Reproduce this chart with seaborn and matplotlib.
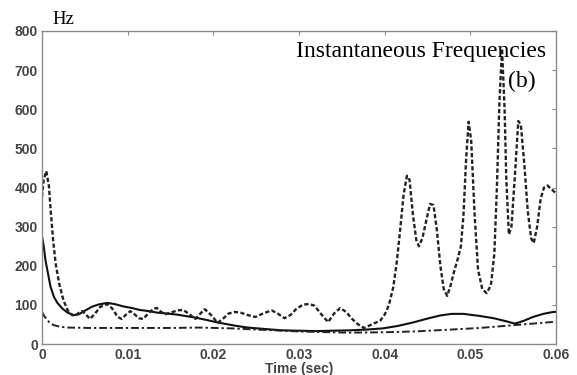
import matplotlib
matplotlib.use("Agg")
import matplotlib.pyplot as plt
import seaborn as sns
import pandas as pd

# ---- data ----
t_dashed = [0.0000, 0.0002, 0.0005, 0.0008, 0.0010, 0.0013, 0.0016, 0.0020, 0.0025, 0.0030,
            0.0035, 0.0039, 0.0043, 0.0047, 0.0051, 0.0056, 0.0062, 0.0068, 0.0077, 0.0083,
            0.0088, 0.0093, 0.0098, 0.0103, 0.0108, 0.0113, 0.0118, 0.0124, 0.0130, 0.0134,
            0.0139, 0.0144, 0.0150, 0.0158, 0.0165, 0.0172, 0.0179, 0.0185, 0.0190, 0.0197,
            0.0205, 0.0212, 0.0218, 0.0225, 0.0232, 0.0240, 0.0249, 0.0258, 0.0268, 0.0275,
            0.0283, 0.0290, 0.0297, 0.0305, 0.0312, 0.0318, 0.0326, 0.0334, 0.0341, 0.0348,
            0.0355, 0.0362, 0.0369, 0.0376, 0.0385, 0.0395, 0.0400, 0.0405, 0.0410, 0.0414,
            0.0418, 0.0422, 0.0426, 0.0429, 0.0433, 0.0437, 0.0440, 0.0444, 0.0449, 0.0453,
            0.0457, 0.0461, 0.0465, 0.0469, 0.0473, 0.0477, 0.0481, 0.0485, 0.0489, 0.0492,
            0.0495, 0.0498, 0.0501, 0.0505, 0.0509, 0.0514, 0.0519, 0.0524, 0.0528, 0.0531,
            0.0534, 0.0537, 0.0540, 0.0542, 0.0545, 0.0548, 0.0552, 0.0556, 0.0559, 0.0563,
            0.0567, 0.0571, 0.0574, 0.0578, 0.0582, 0.0586, 0.0590, 0.0595, 0.0600]
f_dashed = [376, 420, 442, 405, 345, 265, 205, 155, 112, 86,
            74, 72, 80, 84, 76, 64, 78, 95, 102, 88,
            70, 64, 75, 84, 76, 66, 64, 78, 90, 92,
            82, 76, 80, 86, 87, 76, 64, 78, 89, 75,
            54, 66, 78, 82, 80, 74, 69, 78, 86, 78,
            66, 74, 90, 101, 102, 98, 76, 56, 78, 92,
            82, 64, 50, 41, 50, 60, 75, 100, 145, 207,
            290, 380, 430, 420, 330, 265, 250, 270, 320, 358,
            355, 290, 200, 140, 123, 150, 185, 215, 250, 330,
            470, 568, 520, 330, 190, 140, 130, 150, 230, 400,
            620, 755, 600, 420, 280, 300, 430, 570, 560, 460,
            340, 270, 258, 300, 370, 400, 405, 395, 385]

t_solid = [0.0000, 0.0002, 0.0004, 0.0007, 0.0010, 0.0014, 0.0018, 0.0024, 0.0030, 0.0037,
           0.0043, 0.0050, 0.0058, 0.0066, 0.0076, 0.0085, 0.0095, 0.0105, 0.0114, 0.0125,
           0.0135, 0.0146, 0.0158, 0.0169, 0.0180, 0.0193, 0.0205, 0.0215, 0.0225, 0.0240,
           0.0262, 0.0280, 0.0300, 0.0320, 0.0340, 0.0360, 0.0380, 0.0398, 0.0415, 0.0433,
           0.0450, 0.0465, 0.0478, 0.0492, 0.0510, 0.0527, 0.0542, 0.0552, 0.0562, 0.0573,
           0.0585, 0.0597, 0.0600]
f_solid = [275, 250, 215, 180, 146, 120, 105, 90, 80, 74,
           76, 85, 95, 101, 105, 102, 96, 92, 87, 84,
           80, 78, 75, 71, 67, 61, 55, 51, 47, 42,
           38, 35, 34, 33, 34, 35, 37, 40, 46, 55,
           65, 73, 77, 77, 72, 66, 58, 52, 59, 69,
           77, 82, 82]

t_dashdot = [0.0000, 0.0003, 0.0006, 0.0009, 0.0014, 0.0021, 0.0030, 0.0056, 0.0100, 0.0150,
             0.0184, 0.0220, 0.0260, 0.0300, 0.0356, 0.0400, 0.0433, 0.0470, 0.0511, 0.0550,
             0.0600]
f_dashdot = [82, 70, 62, 54, 48, 44, 42, 41, 41, 41,
             42, 40, 36, 32, 29, 30, 32, 36, 41, 48,
             57]

x_ticks = [0, 0.01, 0.02, 0.03, 0.04, 0.05, 0.06]
x_ticklabels = ["0", "0.01", "0.02", "0.03", "0.04", "0.05", "0.06"]
y_ticks = [0, 100, 200, 300, 400, 500, 600, 700, 800]

sns.set_theme(style="white")
plt.rcParams["font.family"] = ["Liberation Sans", "DejaVu Sans"]

fig = plt.figure(figsize=(5.77, 3.75), dpi=100)
ax = fig.add_axes([42 / 577, 1 - 344 / 375, (556 - 42) / 577, (344 - 31) / 375])

df_d = pd.DataFrame({"t": t_dashed, "f": f_dashed})
df_s = pd.DataFrame({"t": t_solid, "f": f_solid})
df_dd = pd.DataFrame({"t": t_dashdot, "f": f_dashdot})

sns.lineplot(data=df_s, x="t", y="f", ax=ax, color="#111111", linewidth=1.5, linestyle="-")
sns.lineplot(data=df_dd, x="t", y="f", ax=ax, color="#222222", linewidth=1.4,
             linestyle=(0, (4, 1.5, 1.2, 1.5)))
sns.lineplot(data=df_d, x="t", y="f", ax=ax, color="#222222", linewidth=1.7,
             linestyle=(0, (1.8, 1.0)))

ax.set_xlim(0, 0.06)
ax.set_ylim(0, 800)
ax.set_xticks(x_ticks)
ax.set_xticklabels(x_ticklabels)
ax.set_yticks(y_ticks)

grey = "#8a8a8a"
for s in ax.spines.values():
    s.set_color(grey)
    s.set_linewidth(1.0)
    s.set_visible(True)
ax.tick_params(direction="in", length=3, width=0.8, color=grey,
               top=True, right=True, labelsize=10, labelcolor="#444444", pad=3)
for lab in ax.get_xticklabels() + ax.get_yticklabels():
    lab.set_fontweight("bold")

ax.set_xlabel("Time (sec)", fontsize=10, color="#444444", labelpad=0, fontweight="bold")
ax.set_ylabel("")

fig.text(52 / 577, 1 - 19 / 375, "Hz", family=["Liberation Serif"], fontsize=13.5,
         color="black", va="center", ha="left")
fig.text(546 / 577, 1 - 52 / 375, "Instantaneous Frequencies", family=["Liberation Serif"],
         fontsize=17, color="black", va="center", ha="right")
fig.text(536 / 577, 1 - 81 / 375, "(b)", family=["Liberation Serif"],
         fontsize=17, color="black", va="center", ha="right")

fig.savefig("out.png", dpi=100)
